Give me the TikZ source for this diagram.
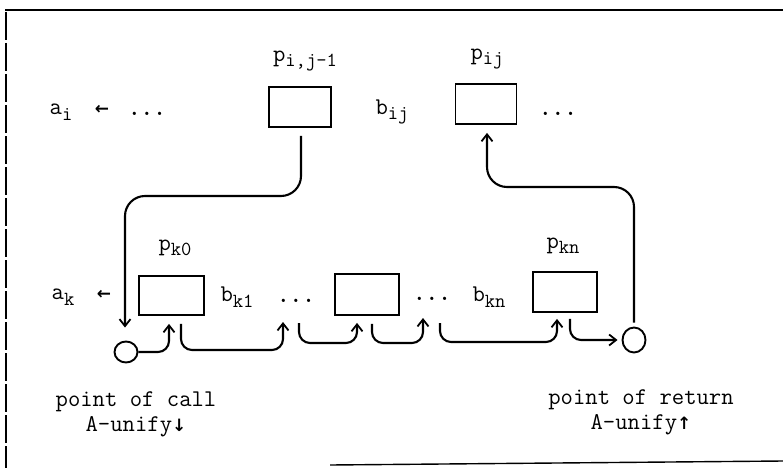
\documentclass[tikz,border=0pt]{standalone}
\usepackage{fontspec}
\newfontfamily\arrowfont{DejaVu Sans}
\usetikzlibrary{arrows.meta,shapes.geometric}
\newcommand{\lsub}[1]{\raisebox{-5.5pt}{\fontsize{20}{20}\selectfont #1}}
\newcommand{\smarrow}[1]{{\arrowfont\bfseries\fontsize{17}{17}\selectfont #1}}
\begin{document}
\begin{tikzpicture}[x=1pt,y=-1pt,
  box/.style={draw, line width=1.8pt, minimum width=64pt, minimum height=40pt, inner sep=0pt},
  lbl/.style={font=\ttfamily\fontsize{24}{25}\selectfont, inner sep=0pt},
  dotn/.style={lbl, anchor=south, text height=3pt, text depth=0pt, font=\ttfamily\bfseries\fontsize{24}{25}\selectfont},
  ell/.style={ellipse, draw, line width=1.9pt, inner sep=0pt, minimum width=23pt, minimum height=22pt},
  conn/.style={line width=2.1pt, rounded corners=11pt, -{Straight Barb[length=7pt,width=11pt,line width=1.8pt]}},
  longconn/.style={conn, rounded corners=20pt},
  frame/.style={line width=1.6pt}]
\useasboundingbox (0,0) rectangle (783,468);

% frame
\draw[frame] (5,10) -- (783,10);
\draw[frame, line width=1.2pt, dash pattern=on 28pt off 3pt] (6,12) -- (6,468);
\draw[frame, line width=1.4pt] (330,465) -- (783,461);

% top row
\node[box, minimum width=62pt] (pij1) at (300,107) {};
\node[box, minimum width=61pt] (pij) at (486,104) {};
\node[lbl] (lpij1) at (305,61) {p\lsub{i,j-1}};
\node[lbl] (lpij) at (487,59) {p\lsub{ij}};
\node[lbl] (ai) at (61,112) {a\lsub{i}};
\node[lbl] (aiarr) at (102,110) {\smarrow{←}};
\node[dotn] (tdots1) at (147,116) {...};
\node[lbl] (bij) at (392,112) {b\lsub{ij}};
\node[dotn] (tdots2) at (558,116) {...};

% bottom row
\node[box, minimum width=65pt, minimum height=39pt] (k0) at (171.5,295.5) {};
\node[box, minimum height=41pt] (mid) at (367,294.5) {};
\node[box] (kn) at (565,292) {};
\node[lbl] (lk0) at (175,248) {p\lsub{k0}};
\node[lbl] (lkn) at (563,246) {p\lsub{kn}};
\node[lbl] (ak) at (63,297) {a\lsub{k}};
\node[lbl] (akarr) at (104,295) {\smarrow{←}};
\node[lbl] (bk1) at (237,297) {b\lsub{k1}};
\node[dotn] (dots1) at (296,303) {...};
\node[dotn] (dots2) at (432,301) {...};
\node[lbl] (bkn) at (489,297) {b\lsub{kn}};

% call / return points
\node[ell, minimum height=21pt] (lc) at (126,352) {};
\node[ell, minimum height=25pt] (rc) at (634,340) {};
\node[lbl, align=center] (callt) at (136,414) {point of call\\A-unify\smarrow{↓}};
\node[lbl, align=center] (rett) at (641,412) {point of return\\A-unify\smarrow{↑}};

% long connectors
\draw[longconn, shorten <=8pt, shorten >=13pt]
  ([xshift=1pt]pij1.south) -- ([xshift=1pt]pij1.south |- 0,196) -- ([xshift=-1pt]lc.north |- 0,196) -- ([xshift=-1pt]lc.north);
\draw[longconn, shorten <=4pt, shorten >=8pt]
  (rc.north) -- (rc.north |- 0,187) -- ([xshift=1pt]pij.south |- 0,187) -- ([xshift=1pt]pij.south);

% chain of connectors
\draw[conn, shorten >=8pt]
  (lc.east) -- ([xshift=-2.5pt]k0.south |- lc.east) -- ([xshift=-2.5pt]k0.south);
\draw[conn, shorten <=8pt, shorten >=19pt]
  ([xshift=9.5pt]k0.south) -- ([xshift=9.5pt]k0.south |- 0,350) -- ([xshift=-13pt]dots1.south |- 0,350) -- ([xshift=-13pt]dots1.south);
\draw[conn, shorten <=20pt, shorten >=7pt]
  ([xshift=3pt]dots1.south) -- ([xshift=3pt]dots1.south |- 0,343) -- ([xshift=-10pt]mid.south |- 0,343) -- ([xshift=-10pt]mid.south);
\draw[conn, shorten <=8pt, shorten >=17pt]
  ([xshift=5pt]mid.south) -- ([xshift=5pt]mid.south |- 0,343) -- ([xshift=-9pt]dots2.south |- 0,343) -- ([xshift=-9pt]dots2.south);
\draw[conn, shorten <=22pt, shorten >=6pt]
  ([xshift=8pt]dots2.south) -- ([xshift=8pt]dots2.south |- 0,342) -- ([xshift=-8pt]kn.south |- 0,342) -- ([xshift=-8pt]kn.south);
\draw[conn, shorten <=6pt, shorten >=4pt]
  ([xshift=5pt]kn.south) -- ([xshift=5pt]kn.south |- rc.west) -- (rc.west);
\end{tikzpicture}
\end{document}
